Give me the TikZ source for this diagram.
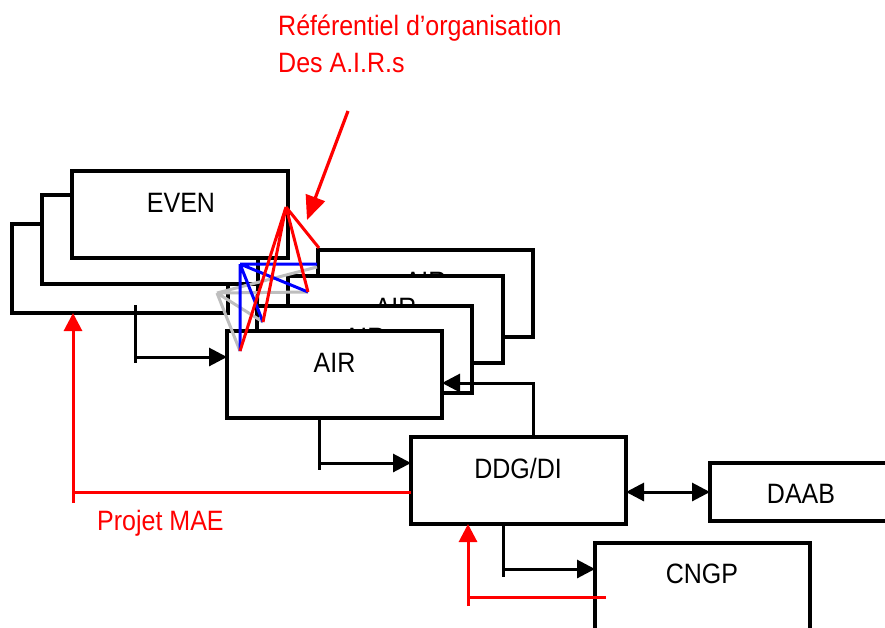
\documentclass[tikz,border=0pt]{standalone}
\usepackage{fontspec}
\setmainfont{Liberation Sans}
\usepackage{graphicx}
\usetikzlibrary{arrows.meta}
\newcommand{\tx}[1]{\scalebox{1}[1.12]{#1}}
\definecolor{rd}{RGB}{255,0,0}
\definecolor{bl}{RGB}{0,0,255}
\definecolor{gy}{RGB}{190,190,190}
\begin{document}
\begin{tikzpicture}[x=1pt,y=-1pt,
  box/.style={draw=black,fill=white,line width=3.5pt,inner sep=0pt,outer sep=0pt},
  lbl/.style={font=\fontsize{25}{30}\selectfont,inner sep=0pt,anchor=base},
  rlbl/.style={lbl,text=rd,anchor=base west},
  conn/.style={line width=3pt,black},
  tip/.style={-{Triangle[length=18pt,width=18pt]}},
  rline/.style={line width=3pt,rd},
  fan/.style={line width=3pt}]
\useasboundingbox (0,0) rectangle (885,627);
\clip (0,0) rectangle (885,627);

% EVEN stack
\node[box,minimum width=216pt,minimum height=89pt] (even3) at (120,268.5) {};
\node[box,minimum width=216pt,minimum height=89pt] (even2) at (150,239.5) {};
\node[box,minimum width=216pt,minimum height=87pt] (even1) at (180,214.5) {};
\node[lbl] (even1t) at (181,212) {\tx{EVEN}};

% AIR stack
\node[box,minimum width=215pt,minimum height=87pt] (air4) at (425.5,293.5) {};
\node[lbl] (air4t) at (425.5,291) {\tx{AIR}};
\node[box,minimum width=215pt,minimum height=87pt] (air3) at (395.5,319.5) {};
\node[lbl] (air3t) at (395.5,317) {\tx{AIR}};
\node[box,minimum width=215pt,minimum height=87pt] (air2) at (364.5,349.5) {};
\node[lbl] (air2t) at (364.5,347) {\tx{AIR}};
\node[box,minimum width=215pt,minimum height=87pt] (air1) at (334.5,374.5) {};
\node[lbl] (air1t) at (334.5,372) {\tx{AIR}};
\draw[line width=3.5pt] (even2.south east) -- (air2.north west);

% other boxes
\node[box,minimum width=215pt,minimum height=87pt] (ddg) at (518.5,480.5) {};
\node[lbl] (ddgt) at (518,478) {\tx{DDG/DI}};
\node[box,minimum width=185pt,minimum height=58pt] (daab) at (802.5,492) {};
\node[lbl] (daabt) at (801,503) {\tx{DAAB}};
\node[box,minimum width=215pt,minimum height=97pt] (cngp) at (702.5,591.5) {};
\node[lbl] (cngpt) at (702,583) {\tx{CNGP}};

% black connectors
\coordinate (c1top) at (135,305);
\coordinate (c1bot) at (135,363);
\coordinate (c1h) at (135,357);
\draw[conn] (c1top) -- (c1bot);
\draw[conn,tip] (c1h) -- (c1h -| air1.west);

\coordinate (c2b) at (319,470);
\coordinate (c2h) at (319,463);
\draw[conn] (air1.south -| c2b) -- (c2b);
\draw[conn,tip] (c2h) -- (c2h -| ddg.west);

\coordinate (c3) at (533,383);
\draw[conn,tip] (ddg.north -| c3) -- (c3) -- (c3 -| air1.east);

\coordinate (c4) at (668,492);
\draw[conn,{Triangle[length=18pt,width=18pt]}-{Triangle[length=18pt,width=18pt]}] (c4 -| ddg.east) -- (c4 -| daab.west);

\coordinate (c5b) at (503,577);
\coordinate (c5h) at (503,569);
\draw[conn] (ddg.south -| c5b) -- (c5b);
\draw[conn,tip] (c5h) -- (c5h -| cngp.west);

% red connectors
\coordinate (r1a) at (606,597);
\coordinate (r1b) at (468,597);
\coordinate (r1c) at (468,606);
\draw[rline] (r1a) -- (r1b);
\draw[rline,tip] (r1c) -- (r1c |- ddg.south);

\coordinate (r2a) at (73,492);
\coordinate (r2b) at (73,503);
\draw[rline] (r2a -| ddg.west) -- (r2a);
\draw[rline,tip] (r2b) -- (r2b |- even3.south);
\node[rlbl] (mae) at (97,530) {\tx{Projet MAE}};

% fans
\coordinate (apR) at (286,207);
\coordinate (apB) at (240,264);
\coordinate (apG) at (217,293);
\coordinate (t1) at (240,351);
\coordinate (t2) at (263,322);
\coordinate (t3) at (308,292);
\coordinate (t4r) at (319,248);
\coordinate (t4b) at (317,264);
\coordinate (t4g) at (317,267);
\draw[fan,gy] (apG) -- (t4g) (apG) -- (t3) (apG) -- (t2) (apG) -- (t1);
\draw[fan,bl] (apB) -- (t4b) (apB) -- (t3) (apB) -- (t2) (apB) -- (t1);
\draw[fan,rd] (apR) -- (t4r) (apR) -- (t3) (apR) -- (t2) (apR) -- (t1);

% title and arrow
\node[rlbl] (title1) at (278,35) {\tx{Référentiel d’organisation}};
\node[rlbl] (title2) at (278,72) {\tx{Des A.I.R.s}};
\coordinate (ra) at (348,111);
\coordinate (rb) at (307,220);
\draw[line width=3.2pt,rd,-{Triangle[length=24pt,width=20pt]}] (ra) -- (rb);
\end{tikzpicture}
\end{document}
